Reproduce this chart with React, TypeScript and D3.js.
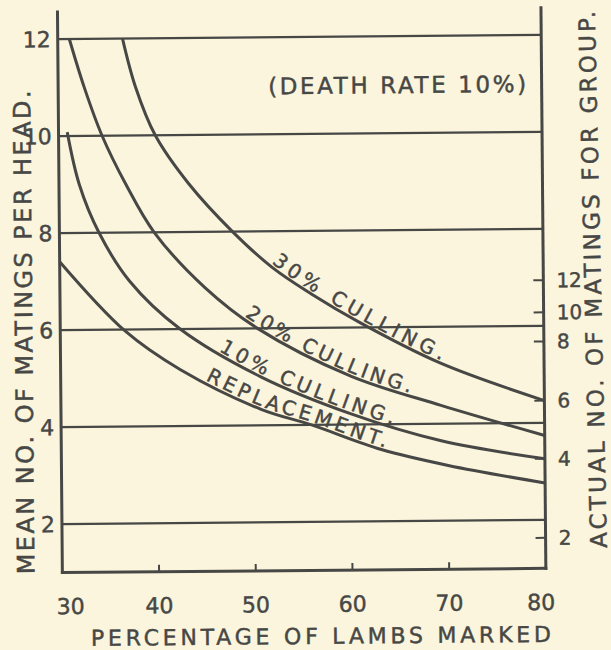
import React, { useEffect, useRef } from 'react';
import * as d3 from 'd3';

const W = 611;
const H = 650;

// Axis ticks
const xTicks = [30, 40, 50, 60, 70, 80];
const yTicks = [2, 4, 6, 8, 10, 12];
// Right axis (actual no. of matings for group): label and its position in left-axis units
const rightTickLabels = [2, 4, 6, 8, 10, 12];
const rightTickAt = [1.63, 3.26, 4.46, 5.68, 6.28, 6.94];

// Curves: [percentage of lambs marked, mean no. of matings per head]
const culling30: [number, number][] = [
  [36.7, 12], [38.0, 11], [40, 10], [43.4, 9], [47.9, 8], [52, 7.25], [56, 6.7], [61, 6.1], [69.3, 5.25], [80, 4.46],
];
const culling20: [number, number][] = [
  [31.2, 12], [32.7, 11], [34.5, 10], [36.9, 9], [39.8, 8], [45, 6.85], [50.4, 6], [60, 5.0], [69.3, 4.38], [80, 3.74],
];
const culling10: [number, number][] = [
  [30.9, 10.08], [32.1, 9], [34.1, 8], [37.2, 7], [42.4, 6], [50.7, 5.0], [60, 4.22], [69.3, 3.65], [80, 3.26],
];
const replacement: [number, number][] = [
  [30, 7.41], [36.7, 5.97], [42.4, 5.16], [50.7, 4.33], [55.9, 4.0], [63.1, 3.48], [70, 3.14], [80, 2.76],
];
const seriesData = [culling30, culling20, culling10, replacement];
const seriesNames = ['30% CULLING.', '20% CULLING.', '10% CULLING.', 'REPLACEMENT.'];

const xTitle = 'PERCENTAGE OF LAMBS MARKED';
const yTitle = 'MEAN NO. OF MATINGS PER HEAD.';
const y2Title = 'ACTUAL NO. OF MATINGS FOR GROUP.';
const note = '(DEATH RATE 10%)';

export default function App() {
  const ref = useRef<SVGSVGElement>(null);

  useEffect(() => {
    const svg = d3.select(ref.current);
    svg.selectAll('*').remove();
    const FONT = "'DejaVu Sans', sans-serif";
    const INK = '#474745';
    const PAPER = '#faf5dc';

    svg.append('rect').attr('width', W).attr('height', H).attr('fill', PAPER);
    const g = svg.append('g').attr('transform', 'rotate(-0.5 300 300)');

    const x = d3.scaleLinear().domain([30, 80]).range([60, 543.5]);
    const y = d3.scaleLinear().domain([2, 12]).range([522, 37]);
    const yTop = 12.56;
    const yBottom = 1;

    // gridlines
    g.selectAll('line.grid')
      .data(yTicks)
      .join('line')
      .attr('class', 'grid')
      .attr('x1', x(30))
      .attr('x2', x(80))
      .attr('y1', (d) => y(d))
      .attr('y2', (d) => y(d))
      .attr('stroke', INK)
      .attr('stroke-width', 2.2);

    // axes
    const axisStyle = (sel: any) =>
      sel.attr('stroke', INK).attr('stroke-width', 3).attr('stroke-linecap', 'square');
    axisStyle(g.append('line').attr('x1', x(30)).attr('x2', x(30)).attr('y1', y(yTop)).attr('y2', y(yBottom)));
    axisStyle(g.append('line').attr('x1', x(80)).attr('x2', x(80)).attr('y1', y(yTop)).attr('y2', y(yBottom)));
    axisStyle(g.append('line').attr('x1', x(30)).attr('x2', x(80)).attr('y1', y(yBottom)).attr('y2', y(yBottom)));

    // bottom ticks
    g.selectAll('line.xtick')
      .data(xTicks.slice(1, -1))
      .join('line')
      .attr('class', 'xtick')
      .attr('x1', (d) => x(d))
      .attr('x2', (d) => x(d))
      .attr('y1', y(yBottom))
      .attr('y2', y(yBottom) - 7)
      .attr('stroke', INK)
      .attr('stroke-width', 2);

    // right ticks
    g.selectAll('line.rtick')
      .data(rightTickAt)
      .join('line')
      .attr('class', 'rtick')
      .attr('x1', x(80) - 10)
      .attr('x2', x(80))
      .attr('y1', (d) => y(d))
      .attr('y2', (d) => y(d))
      .attr('stroke', INK)
      .attr('stroke-width', 2);

    const txt = (sel: any, size: number) =>
      sel
        .attr('font-family', FONT)
        .attr('font-size', size)
        .attr('fill', INK)
        .attr('stroke', INK)
        .attr('stroke-width', 0.45);

    // left tick labels
    txt(g.selectAll('text.ylab').data(yTicks).join('text').attr('class', 'ylab'), 22)
      .attr('x', x(30) - 7)
      .attr('y', (d: number) => y(d) + 8)
      .attr('text-anchor', 'end')
      .text((d: number) => String(d));

    // bottom tick labels
    txt(g.selectAll('text.xlab').data(xTicks).join('text').attr('class', 'xlab'), 22)
      .attr('x', (d: number, i: number) => x(d) + (i === 0 ? 8 : i === xTicks.length - 1 ? -5 : 0))
      .attr('y', 612)
      .attr('text-anchor', 'middle')
      .text((d: number) => String(d));

    // right tick labels
    txt(g.selectAll('text.rlab').data(rightTickLabels).join('text').attr('class', 'rlab'), 20)
      .attr('x', x(80) + 13)
      .attr('y', (_d: number, i: number) => y(rightTickAt[i]) + 7)
      .attr('text-anchor', 'start')
      .text((d: number) => String(d));

    // titles
    txt(g.append('text'), 22)
      .attr('x', 318)
      .attr('y', 644)
      .attr('text-anchor', 'middle')
      .attr('textLength', 460)
      .attr('lengthAdjust', 'spacing')
      .text(xTitle);

    txt(g.append('text'), 24)
      .attr('transform', 'translate(32,330) rotate(-90)')
      .attr('text-anchor', 'middle')
      .attr('textLength', 484)
      .attr('lengthAdjust', 'spacing')
      .text(yTitle);

    txt(g.append('text'), 23)
      .attr('transform', 'translate(601,282) rotate(-90.8)')
      .attr('text-anchor', 'middle')
      .attr('textLength', 537)
      .attr('lengthAdjust', 'spacing')
      .text(y2Title);

    txt(g.append('text'), 23)
      .attr('x', 270)
      .attr('y', 94)
      .attr('textLength', 258)
      .attr('lengthAdjust', 'spacing')
      .text(note);

    // curves
    const line = d3
      .line<[number, number]>()
      .x((d) => x(d[0]))
      .y((d) => y(d[1]))
      .curve(d3.curveCatmullRom.alpha(0.5));

    const labelStart = [51.7, 48.9, 46.2, 44.8];
    const labelLen = [197, 184, 190, 193];

    seriesData.forEach((s, i) => {
      const p = g
        .append('path')
        .attr('id', 'curve' + i)
        .attr('d', line(s) as string)
        .attr('fill', 'none')
        .attr('stroke', INK)
        .attr('stroke-width', 3);
      const node = p.node() as SVGPathElement;
      const target = x(labelStart[i]);
      let lo = 0;
      let hi = node.getTotalLength();
      for (let k = 0; k < 40; k++) {
        const mid = (lo + hi) / 2;
        if (node.getPointAtLength(mid).x < target) lo = mid;
        else hi = mid;
      }
      const t = txt(g.append('text'), 20).attr('dy', -3);
      t.append('textPath')
        .attr('href', '#curve' + i)
        .attr('startOffset', lo)
        .attr('textLength', labelLen[i])
        .attr('lengthAdjust', 'spacing')
        .text(seriesNames[i]);
    });
  }, []);

  return (
    <svg
      ref={ref}
      width={W}
      height={H}
      style={{ position: 'absolute', left: 0, top: 0, display: 'block' }}
    />
  );
}
